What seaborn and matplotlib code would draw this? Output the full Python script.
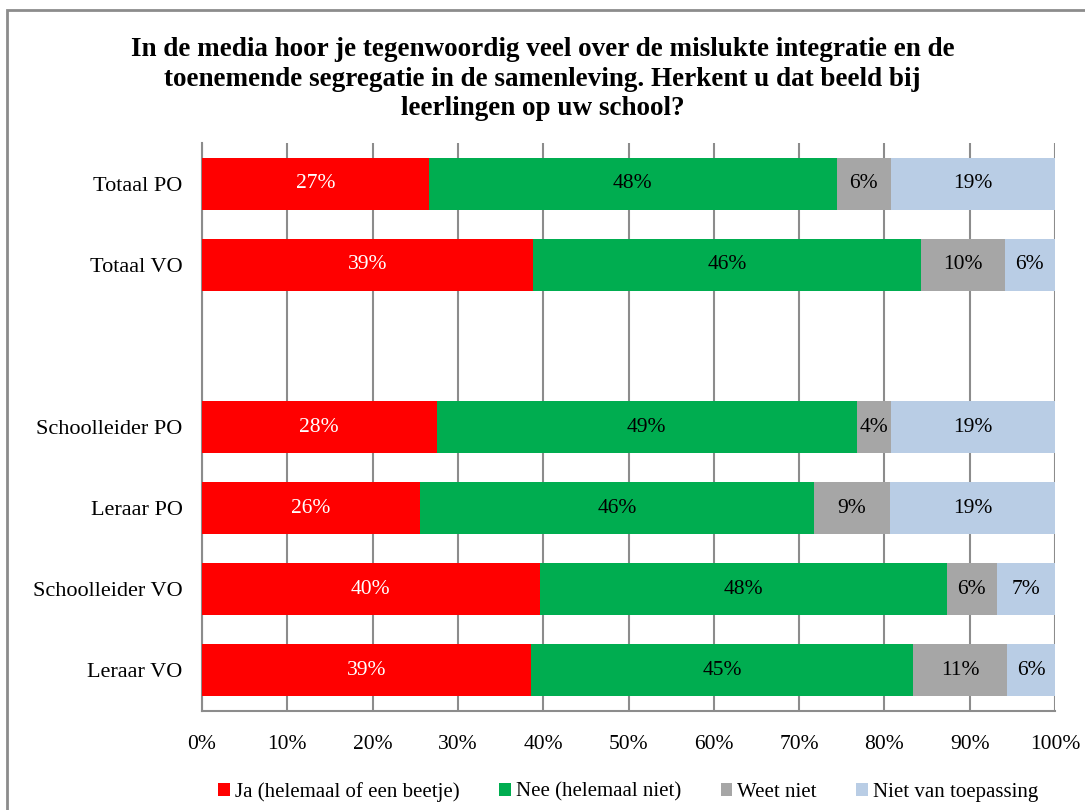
import pandas as pd
import matplotlib.pyplot as plt
import seaborn as sns
from matplotlib.patches import Rectangle, Patch

# data (percentages)
groepen = ['Totaal PO', 'Totaal VO', ' ', 'Schoolleider PO', 'Leraar PO', 'Schoolleider VO', 'Leraar VO']
rijen = ['Totaal PO', 'Totaal VO', 'Schoolleider PO', 'Leraar PO', 'Schoolleider VO', 'Leraar VO']
ja = [26.6, 38.8, 27.5, 25.6, 39.6, 38.6]
nee = [47.8, 45.5, 49.3, 46.1, 47.7, 44.8]
weet_niet = [6.4, 9.8, 4.0, 9.0, 5.9, 11.0]
niet_toep = [19.2, 5.9, 19.2, 19.3, 6.8, 5.6]

antwoorden = ['Ja (helemaal of een beetje)', 'Nee (helemaal niet)', 'Weet niet', 'Niet van toepassing']
kleuren = ['#FF0000', '#00AD50', '#A6A6A6', '#B9CDE5']
tekstkleur = ['white', 'black', 'black', 'black']

sns.set_theme(style='white')
plt.rcParams['font.family'] = ['Liberation Serif', 'DejaVu Serif']
plt.rcParams['text.color'] = 'black'
plt.rcParams['xtick.color'] = 'black'
plt.rcParams['ytick.color'] = 'black'

df = pd.DataFrame({'groep': rijen, antwoorden[0]: ja, antwoorden[1]: nee,
                   antwoorden[2]: weet_niet, antwoorden[3]: niet_toep})
cum = df[antwoorden].cumsum(axis=1)

fig = plt.figure(figsize=(10.85, 8.1), dpi=100)
ax = fig.add_axes([202 / 1085, 1 - 711 / 810, 853 / 1085, 568 / 810])

# grijze rand om de figuur
fig.patches.append(Rectangle((7 / 1085, -0.05), 1.1, 1 - 10 / 810 + 0.05, transform=fig.transFigure,
                             fill=False, edgecolor='#8C8C8C', linewidth=2))

# gestapelde balken: van achter naar voren tekenen
for i in range(len(antwoorden) - 1, -1, -1):
    tmp = pd.DataFrame({'groep': df['groep'], 'waarde': cum[antwoorden[i]]})
    sns.barplot(data=tmp, x='waarde', y='groep', order=groepen, color=kleuren[i],
                width=0.64, saturation=1, ax=ax, zorder=3, linewidth=0)

# labels in de balken
for r, g in enumerate(rijen):
    pos = groepen.index(g)
    start = 0
    for i, a in enumerate(antwoorden):
        v = df.loc[r, a]
        ax.text(start + v / 2, pos, f'{round(v):.0f}%', ha='center', va='center',
                fontsize=15.5, color=tekstkleur[i], zorder=5)
        start += v

ax.set_xlim(0, 100)
ax.set_ylim(len(groepen) - 0.5, -0.5)
ax.set_xticks(range(0, 101, 10))
ax.set_xticklabels([f'{t}%' for t in range(0, 101, 10)], fontsize=15.5)
ax.tick_params(axis='x', length=0, pad=17)
ax.tick_params(axis='y', length=0, pad=14, labelsize=16)
ax.set_xlabel('')
ax.set_ylabel('')
ax.xaxis.grid(True, color='#8C8C8C', linewidth=1.5, zorder=0)
ax.set_axisbelow(True)
for s in ['top', 'right']:
    ax.spines[s].set_visible(False)
for s in ['left', 'bottom']:
    ax.spines[s].set_color('#8C8C8C')
    ax.spines[s].set_linewidth(1.5)

fig.text(0.5, 1 - 79 / 810,
         'In de media hoor je tegenwoordig veel over de mislukte integratie en de\n'
         'toenemende segregatie in de samenleving. Herkent u dat beeld bij\n'
         'leerlingen op uw school?',
         ha='center', va='center', fontsize=19.5, fontweight='bold', linespacing=1.25)

handles = [Patch(facecolor=k, edgecolor='none') for k in kleuren]
fig.legend(handles, antwoorden, loc='center', bbox_to_anchor=(0.579, 1 - 792 / 810), ncol=4,
           frameon=False, fontsize=15, handlelength=0.55, handleheight=0.55,
           handletextpad=0.25, columnspacing=1.9)

fig.savefig('out.png', dpi=100)
